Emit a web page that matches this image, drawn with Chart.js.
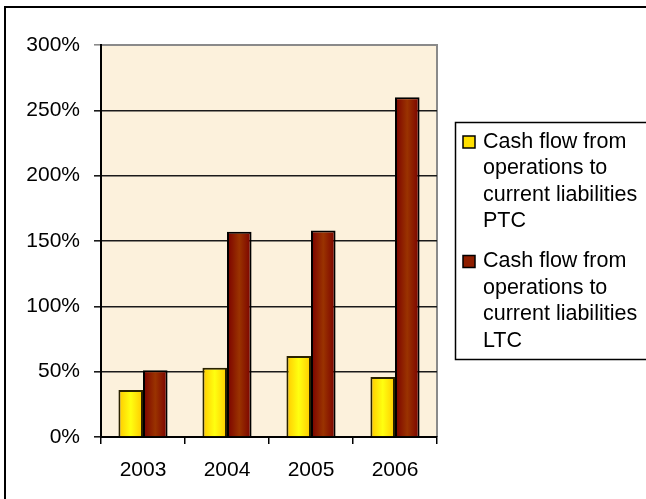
<!DOCTYPE html>
<html>
<head>
<meta charset="utf-8">
<script src="https://cdn.jsdelivr.net/npm/chart.js@4.4.1/dist/chart.umd.min.js"></script>
<style>
  html, body { margin: 0; padding: 0; background: #fff; }
  #wrap { width: 646px; height: 499px; position: relative; }
</style>
</head>
<body>
<div id="wrap"><canvas id="ratioChart" width="646" height="499"></canvas></div>
<script>
// Years on the x axis
const years = ['2003', '2004', '2005', '2006'];
// Series names
const seriesNames = [
    'Cash flow from operations to current liabilities PTC',
    'Cash flow from operations to current liabilities LTC'
];
// Values in percent
const ptcValues = [36, 53, 62, 46];
const ltcValues = [51, 157, 158, 260];
// y axis range / step (percent)
const yMax = 300;
const yStep = 50;

const CAT_PCT = 0.585; // share of each category taken by the bar pair

// horizontal shading: dark at the edges, bright in the middle
function barFill(edge, mid, flat) {
    return function (c) {
        if (c.type !== 'data') return flat;
        const xs = c.chart.scales.x;
        if (!xs || !isFinite(xs.width)) return flat;
        const cat = xs.width / years.length;
        const bw = cat * CAT_PCT / 2;
        const center = xs.getPixelForValue(c.dataIndex);
        const left = center - bw + c.datasetIndex * bw;
        const g = c.chart.ctx.createLinearGradient(left, 0, left + bw, 0);
        g.addColorStop(0, edge);
        g.addColorStop(0.5, mid);
        g.addColorStop(1, edge);
        return g;
    };
}

// plot background, outer frame and the boxed legend
const decorPlugin = {
    id: 'decor',
    beforeDraw(chart) {
        const { ctx, chartArea: a } = chart;
        ctx.save();
        ctx.fillStyle = '#fcf1dc';
        ctx.fillRect(a.left, a.top, a.right - a.left, a.bottom - a.top);
        ctx.strokeStyle = '#8a8a8a';
        ctx.lineWidth = 2;
        ctx.beginPath();
        ctx.moveTo(a.left, a.top);
        ctx.lineTo(a.right, a.top);
        ctx.lineTo(a.right, a.bottom);
        ctx.stroke();
        ctx.restore();
    },
    afterDraw(chart) {
        const ctx = chart.ctx;
        ctx.save();
        // outer frame (runs off the right and bottom edges)
        ctx.strokeStyle = '#000';
        ctx.lineWidth = 2;
        ctx.strokeRect(5, 7, 700, 520);

        // legend box (also runs off the right edge)
        ctx.lineWidth = 1.5;
        ctx.strokeRect(455.5, 122.5, 220, 237);

        ctx.font = '21.5px "Liberation Sans", Arial, sans-serif';
        ctx.textBaseline = 'middle';
        ctx.fillStyle = '#000';
        const lineH = 26.5;
        let y = 142;
        chart.data.datasets.forEach((ds, i) => {
            // wrap the label to the box width
            const words = ds.label.split(' ');
            const lines = [];
            let cur = '';
            words.forEach(w => {
                const t = cur ? cur + ' ' + w : w;
                if (cur && ctx.measureText(t).width > 170) {
                    lines.push(cur);
                    cur = w;
                } else {
                    cur = t;
                }
            });
            if (cur) lines.push(cur);

            ctx.fillStyle = ds.legendColor;
            ctx.fillRect(463, y - 6, 12, 12);
            ctx.strokeStyle = '#000';
            ctx.lineWidth = 1.5;
            ctx.strokeRect(463, y - 6, 12, 12);

            ctx.fillStyle = '#000';
            lines.forEach((ln, k) => ctx.fillText(ln, 483, y + k * lineH));
            y += lines.length * lineH + 40 - lineH;
        });
        ctx.restore();
    }
};

Chart.defaults.font.family = '"Liberation Sans", Arial, sans-serif';
Chart.defaults.font.size = 21;
Chart.defaults.color = '#000';

new Chart(document.getElementById('ratioChart'), {
    type: 'bar',
    data: {
        labels: years,
        datasets: [
            {
                label: seriesNames[0],
                data: ptcValues,
                backgroundColor: barFill('#ffc800', '#ffff10', '#ffdd00'),
                legendColor: '#ffdf00',
                borderColor: '#2a2200',
                borderWidth: 2
            },
            {
                label: seriesNames[1],
                data: ltcValues,
                backgroundColor: barFill('#7a0000', '#9a3300', '#8b1a00'),
                legendColor: '#8e1e00',
                borderColor: '#000',
                borderWidth: 2
            }
        ]
    },
    options: {
        responsive: false,
        animation: false,
        layout: { padding: { left: 0, top: 45, right: 209, bottom: 0 } },
        datasets: {
            bar: { categoryPercentage: CAT_PCT, barPercentage: 1.0 }
        },
        plugins: {
            legend: { display: false },
            tooltip: { enabled: false }
        },
        scales: {
            x: {
                grid: {
                    offset: true,
                    drawOnChartArea: false,
                    drawTicks: true,
                    tickLength: 7,
                    color: '#000',
                    lineWidth: 1.5
                },
                border: { display: true, color: '#000', width: 2 },
                ticks: { padding: 14, maxRotation: 0 },
                afterFit(s) { s.height = 62; }
            },
            y: {
                min: 0,
                max: yMax,
                grid: {
                    color: c => (c.tick && c.tick.value === yMax) ? '#8a8a8a' : '#1a1a1a',
                    lineWidth: 1.6,
                    tickLength: 7
                },
                border: { display: true, color: '#000', width: 2 },
                ticks: {
                    stepSize: yStep,
                    padding: 14,
                    callback: v => v + '%'
                },
                afterFit(s) { s.width = 101; }
            }
        }
    },
    plugins: [decorPlugin]
});
</script>
</body>
</html>
